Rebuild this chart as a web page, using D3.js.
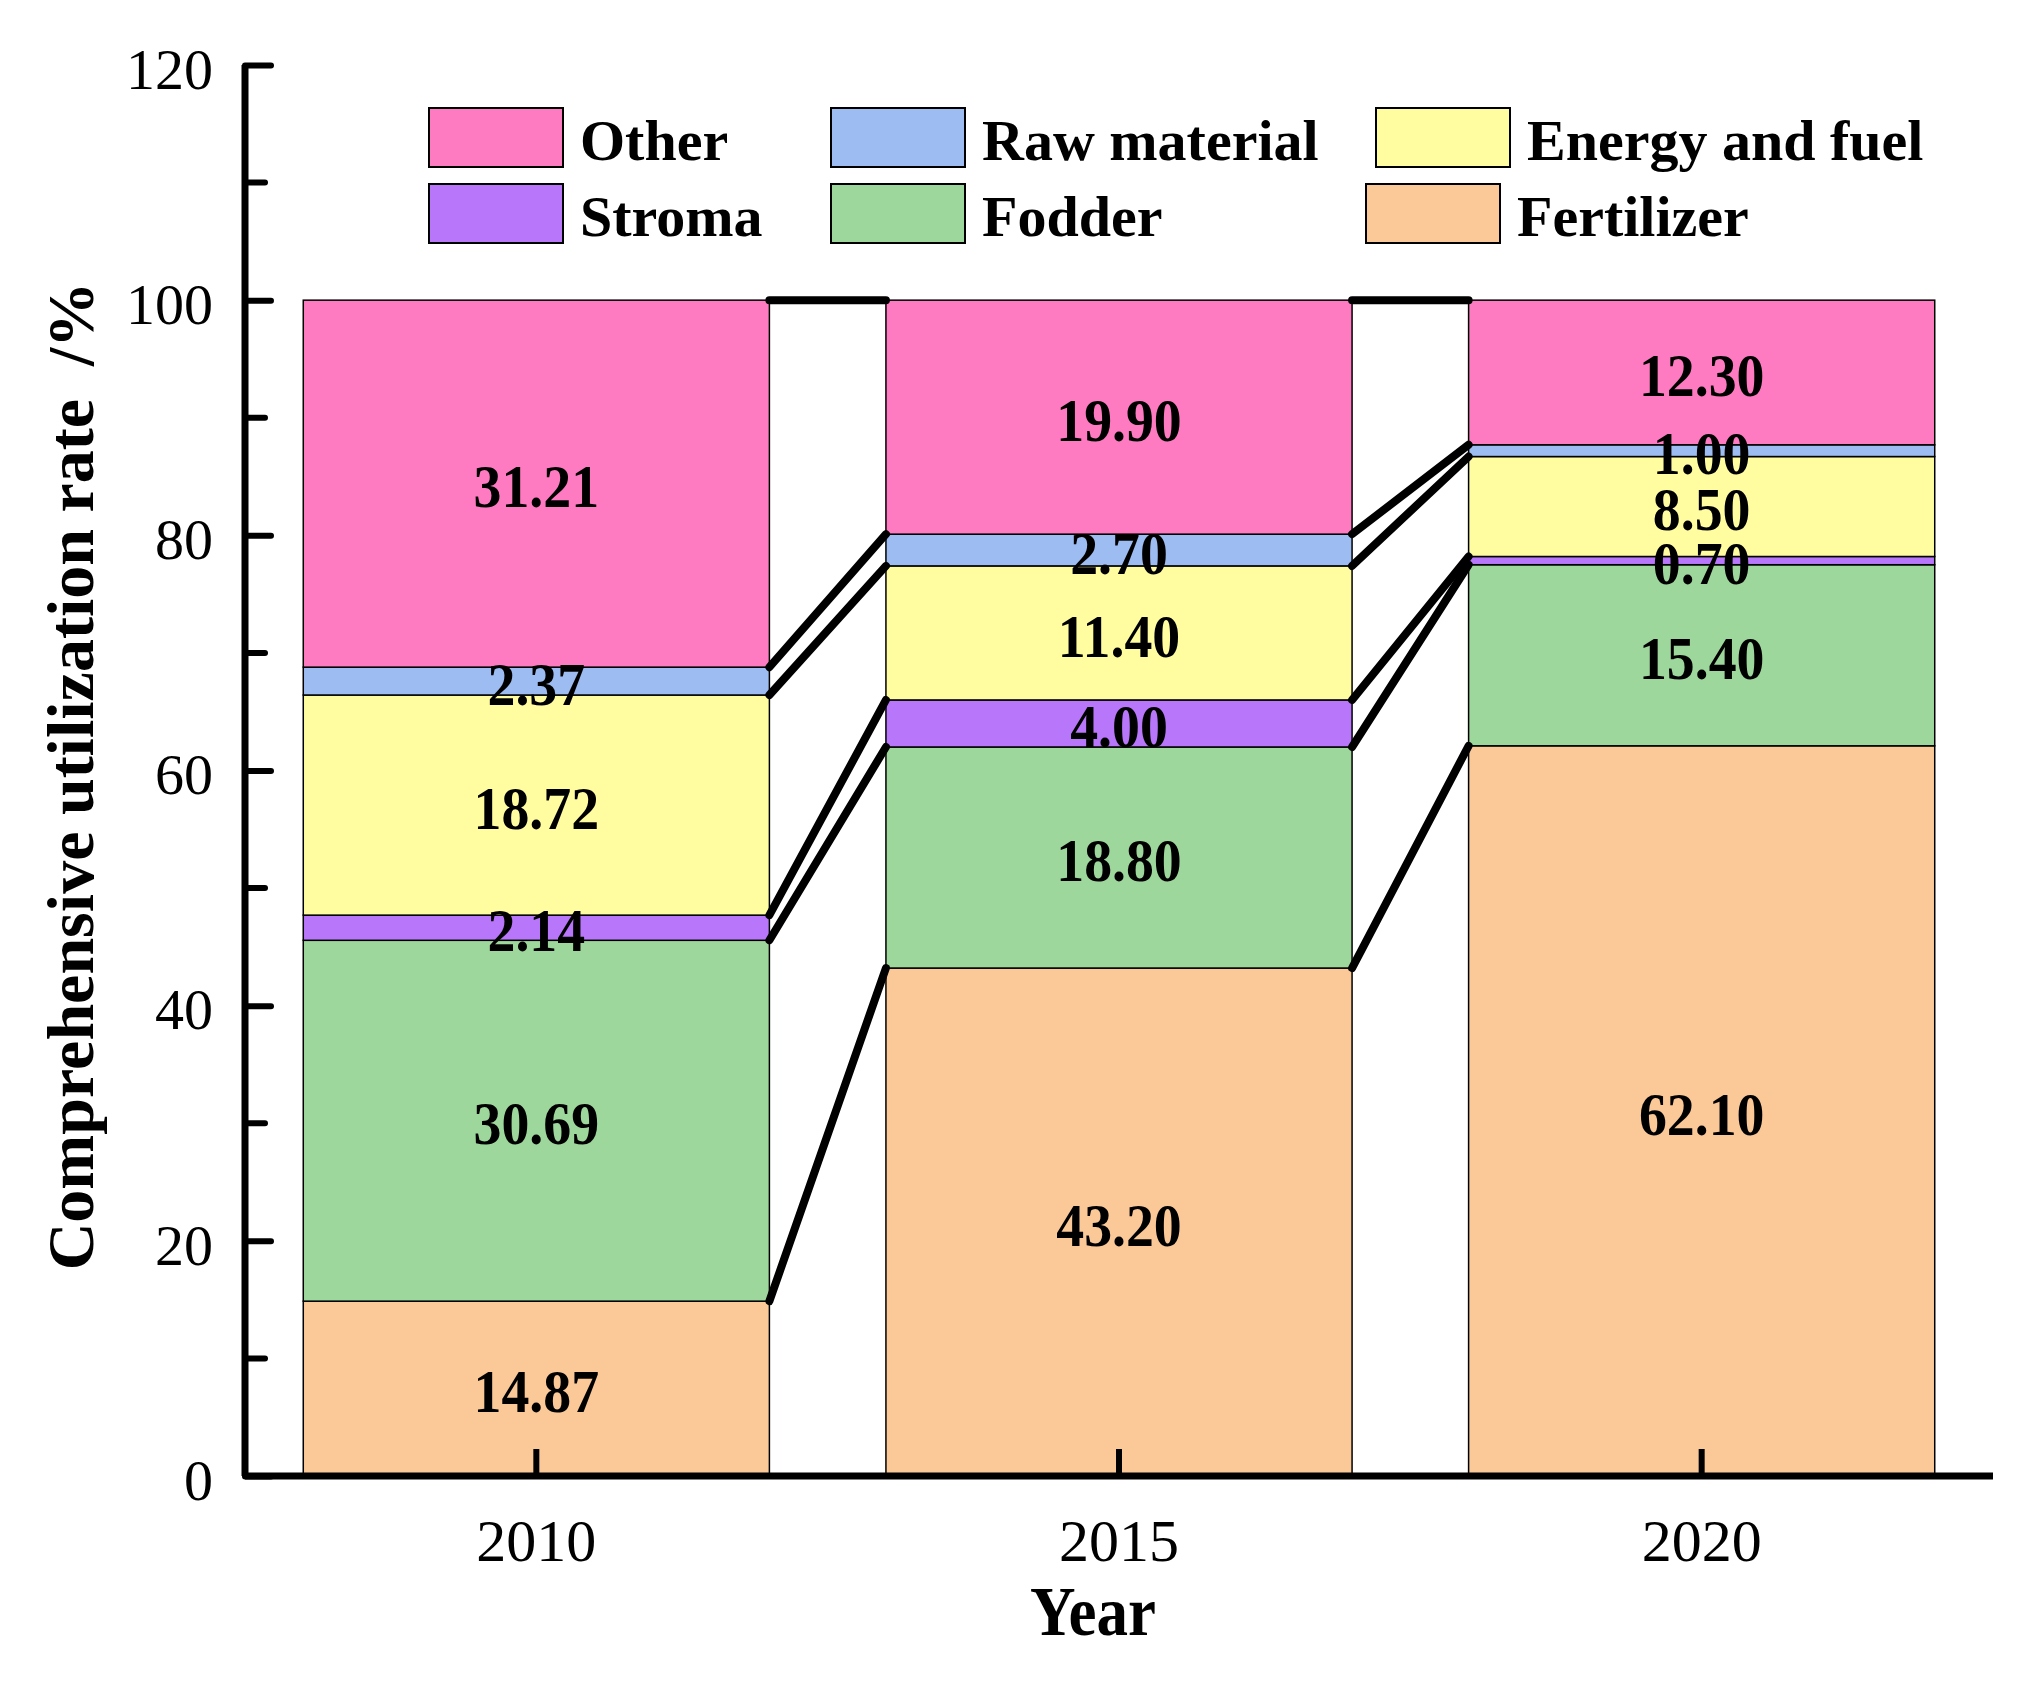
<!DOCTYPE html>
<html>
<head>
<meta charset="utf-8">
<script src="https://cdn.jsdelivr.net/npm/d3@7"></script>
<style>
  body { margin: 0; background: #fff; }
  text { font-family: "Liberation Serif", "Times New Roman", serif; fill: #000; }
</style>
</head>
<body>
<svg id="chart" width="2035" height="1682"></svg>
<script>
// years on the x axis
const years = ["2010", "2015", "2020"];

// series, bottom to top of each stack
const seriesNames = ["Fertilizer", "Fodder", "Stroma", "Energy and fuel", "Raw material", "Other"];
const fertilizer = [14.87, 43.20, 62.10];
const fodder     = [30.69, 18.80, 15.40];
const stroma     = [2.14, 4.00, 0.70];
const energy     = [18.72, 11.40, 8.50];
const rawMat     = [2.37, 2.70, 1.00];
const other      = [31.21, 19.90, 12.30];

const seriesColors = ["#fbc898", "#9ed79c", "#b876fa", "#fffda0", "#9dbcf2", "#ff7bc1"];

// legend rows as they appear in the picture
const legendRows = [["Other", "Raw material", "Energy and fuel"], ["Stroma", "Fodder", "Fertilizer"]];

const yTicks = [0, 20, 40, 60, 80, 100, 120];
const yMinorTicks = [10, 30, 50, 70, 90, 110];

// build rows for d3.stack
const values = [fertilizer, fodder, stroma, energy, rawMat, other];
const table = years.map((yr, i) => {
  const row = { year: yr };
  seriesNames.forEach((s, j) => { row[s] = values[j][i]; });
  return row;
});
const stacked = d3.stack().keys(seriesNames)(table);

const svg = d3.select("#chart");
const x0 = 245, x1 = 1993, yTop = 65, yBot = 1476;

const x = d3.scaleBand().domain(years).range([x0, x1]).paddingInner(0.2).paddingOuter(0.1);
const y = d3.scaleLinear().domain([0, 120]).range([yBot, yTop]);
const color = d3.scaleOrdinal().domain(seriesNames).range(seriesColors);

// bars
const layer = svg.append("g").selectAll("g").data(stacked).join("g")
  .attr("fill", d => color(d.key));
layer.selectAll("rect").data(d => d).join("rect")
  .attr("x", d => x(d.data.year))
  .attr("width", x.bandwidth())
  .attr("y", d => y(d[1]))
  .attr("height", d => y(d[0]) - y(d[1]))
  .attr("stroke", "#000").attr("stroke-width", 1.5);

// connector lines between neighbouring bars, one per boundary
const levels = [];
years.forEach((yr, i) => {
  levels.push(stacked.map(s => s[i][1]));
});
const links = [];
for (let i = 0; i < years.length - 1; i++) {
  levels[i].forEach((v, k) => {
    links.push({ xa: x(years[i]) + x.bandwidth(), ya: v, xb: x(years[i + 1]), yb: levels[i + 1][k] });
  });
}
svg.append("g").selectAll("line").data(links).join("line")
  .attr("x1", d => d.xa).attr("y1", d => y(d.ya))
  .attr("x2", d => d.xb).attr("y2", d => y(d.yb))
  .attr("stroke", "#000").attr("stroke-width", 8).attr("stroke-linecap", "round");

// value labels
const labels = [];
stacked.forEach(s => s.forEach(d => {
  labels.push({ year: d.data.year, mid: (d[0] + d[1]) / 2, text: (d[1] - d[0]).toFixed(2) });
}));
svg.append("g").selectAll("text").data(labels).join("text")
  .attr("transform", d => `translate(${x(d.year) + x.bandwidth() / 2},${y(d.mid) + 2}) scale(0.9,1)`)
  .attr("text-anchor", "middle").attr("dy", "0.35em")
  .attr("font-size", 62).attr("font-weight", "bold")
  .text(d => d.text);

// y axis
const yAxis = svg.append("g").attr("transform", `translate(${x0},0)`)
  .call(d3.axisLeft(y).tickValues(yTicks).tickSize(-26).tickPadding(32));
yAxis.select(".domain").attr("stroke-width", 7).attr("d", `M0,${yBot}V${yTop}`);
yAxis.selectAll(".tick line").attr("stroke-width", 6).attr("stroke-linecap", "round");
yAxis.selectAll(".tick text")
  .attr("font-size", 58).attr("font-family", null).attr("dy", "0.4em");
svg.append("g").selectAll("line").data(yMinorTicks).join("line")
  .attr("x1", x0).attr("x2", x0 + 20)
  .attr("y1", d => y(d)).attr("y2", d => y(d))
  .attr("stroke", "#000").attr("stroke-width", 6).attr("stroke-linecap", "round");

// x axis
const xAxis = svg.append("g").attr("transform", `translate(0,${yBot})`)
  .call(d3.axisBottom(x).tickSize(-27).tickPadding(0));
xAxis.select(".domain").attr("stroke-width", 7).attr("d", `M${x0},0H${x1}`);
xAxis.selectAll(".tick line").attr("stroke-width", 6);
xAxis.selectAll(".tick text")
  .attr("font-size", 60).attr("font-family", null).attr("y", 85).attr("dy", 0);

// axis titles
svg.append("text")
  .attr("transform", `translate(1093,1635) scale(0.9,1)`)
  .attr("text-anchor", "middle").attr("font-size", 70).attr("font-weight", "bold")
  .text("Year");
svg.append("text")
  .attr("transform", `translate(93,776) rotate(-90)`)
  .attr("text-anchor", "middle").attr("font-size", 66).attr("font-weight", "bold")
  .style("white-space", "pre")
  .text("Comprehensive utilization rate  /%");

// legend
const colX = [429, 831, 1376];
legendRows.forEach((row, r) => {
  row.forEach((name, c) => {
    const g = svg.append("g").attr("transform", `translate(${colX[c] - (r === 1 && c === 2 ? 10 : 0)},${108 + r * 76})`);
    g.append("rect").attr("width", 134).attr("height", 59)
      .attr("fill", color(name)).attr("stroke", "#000").attr("stroke-width", 2);
    g.append("text").attr("x", 151).attr("y", 52)
      .attr("font-size", 58).attr("font-weight", "bold")
      .text(name);
  });
});
</script>
</body>
</html>
